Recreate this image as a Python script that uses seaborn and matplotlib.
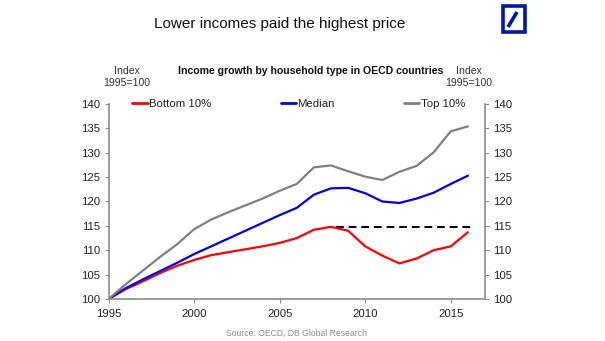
import matplotlib
matplotlib.use("Agg")
import matplotlib.pyplot as plt
import matplotlib.patches as mpatches
from matplotlib.lines import Line2D
import seaborn as sns
import pandas as pd

# Income index by household type, OECD average (1995 = 100)
years = list(range(1995, 2017))
bottom10 = [100.0, 102.0, 103.6, 105.3, 106.8, 108.0, 109.0, 109.6, 110.2, 110.8,
            111.5, 112.5, 114.2, 114.8, 114.0, 110.8, 108.9, 107.3, 108.3, 110.0,
            110.8, 113.7]
median = [100.0, 102.2, 104.0, 105.7, 107.4, 109.2, 110.8, 112.4, 114.0, 115.6,
          117.2, 118.7, 121.4, 122.7, 122.8, 121.7, 120.0, 119.7, 120.6, 121.8,
          123.6, 125.3]
top10 = [100.0, 103.0, 105.8, 108.6, 111.2, 114.3, 116.3, 117.8, 119.2, 120.6,
         122.2, 123.6, 127.0, 127.4, 126.2, 125.1, 124.4, 126.1, 127.3, 130.1,
         134.4, 135.4]
series_names = ["Bottom 10%", "Median", "Top 10%"]
series_colors = ["#ff0000", "#0000e6", "#808080"]

# pre-crisis peak of the bottom decile, carried forward as a reference
ref_span = [2008.3, 2016.3]

x_ticks = [1995, 2000, 2005, 2010, 2015]
y_ticks = [100, 105, 110, 115, 120, 125, 130, 135, 140]

df = pd.DataFrame({"year": years * 3,
                   "index": bottom10 + median + top10,
                   "group": [n for n in series_names for _ in years]})

sns.set_theme(style="white")
plt.rcParams["font.family"] = ["Liberation Sans", "DejaVu Sans"]

fig = plt.figure(figsize=(6.05, 3.41), dpi=100)
ax = fig.add_axes([108.5 / 605, 42 / 341, 376.5 / 605, 195 / 341])

sns.lineplot(data=df, x="year", y="index", hue="group", hue_order=series_names,
             palette=series_colors, linewidth=1.6, ax=ax, legend=False)
ax.hlines(max(bottom10), ref_span[0], ref_span[1], colors="black",
          linestyles=(0, (4, 2.5)), linewidth=1.4, zorder=1)

ax.set_xlim(1995, 2017)
ax.set_ylim(100, 140)
ax.set_xticks(x_ticks)
ax.set_yticks(y_ticks)
ax.set_xlabel("")
ax.set_ylabel("")

spine_color = "#8c8c8c"
for side in ["left", "bottom", "right"]:
    ax.spines[side].set_visible(True)
    ax.spines[side].set_color(spine_color)
    ax.spines[side].set_linewidth(1.2)
ax.spines["top"].set_visible(False)
ax.tick_params(axis="both", which="both", length=3, width=0.8, color=spine_color,
               labelsize=8.2, labelcolor="#222222", pad=3)
ax.tick_params(axis="x", bottom=True, pad=4)
ax.tick_params(axis="y", left=True, right=True, labelright=True)

handles = [Line2D([], [], color=c, linewidth=2) for c in series_colors]
leg = ax.legend(handles, series_names, loc="center", bbox_to_anchor=(0.505, 1.0),
                ncol=3, frameon=False, fontsize=8.2, handlelength=1.35,
                handletextpad=0.1, columnspacing=6.1, borderaxespad=0)
for t in leg.get_texts():
    t.set_color("#222222")

fig.text(280 / 605, 1 - 24 / 341, "Lower incomes paid the highest price",
         ha="center", va="center", fontsize=11, color="#111111")
fig.text(311 / 605, 1 - 71 / 341, "Income growth by household type in OECD countries",
         ha="center", va="center", fontsize=7.6, fontweight="bold", color="#111111")
for xc in (127 / 605, 469 / 605):
    fig.text(xc, 1 - 71 / 341, "Index", ha="center", va="center",
             fontsize=7.6, color="#333333")
    fig.text(xc, 1 - 83 / 341, "1995=100", ha="center", va="center",
             fontsize=7.6, color="#333333")
fig.text(297 / 605, 1 - 333 / 341, "Source: OECD, DB Global Research",
         ha="center", va="center", fontsize=6.2, color="#8a8a9a")

# logo: framed square with a diagonal slash
logo_blue = "#0018a8"
fig.patches.append(mpatches.Rectangle((503 / 605, 1 - 32 / 341), 22 / 605, 26 / 341,
                                      transform=fig.transFigure, fill=False,
                                      edgecolor=logo_blue, linewidth=2.6))
fig.lines.append(Line2D([508 / 605, 517 / 605], [1 - 27 / 341, 1 - 12 / 341],
                        transform=fig.transFigure, color=logo_blue, linewidth=2.6,
                        solid_capstyle="butt"))

fig.savefig("out.png", dpi=100)
